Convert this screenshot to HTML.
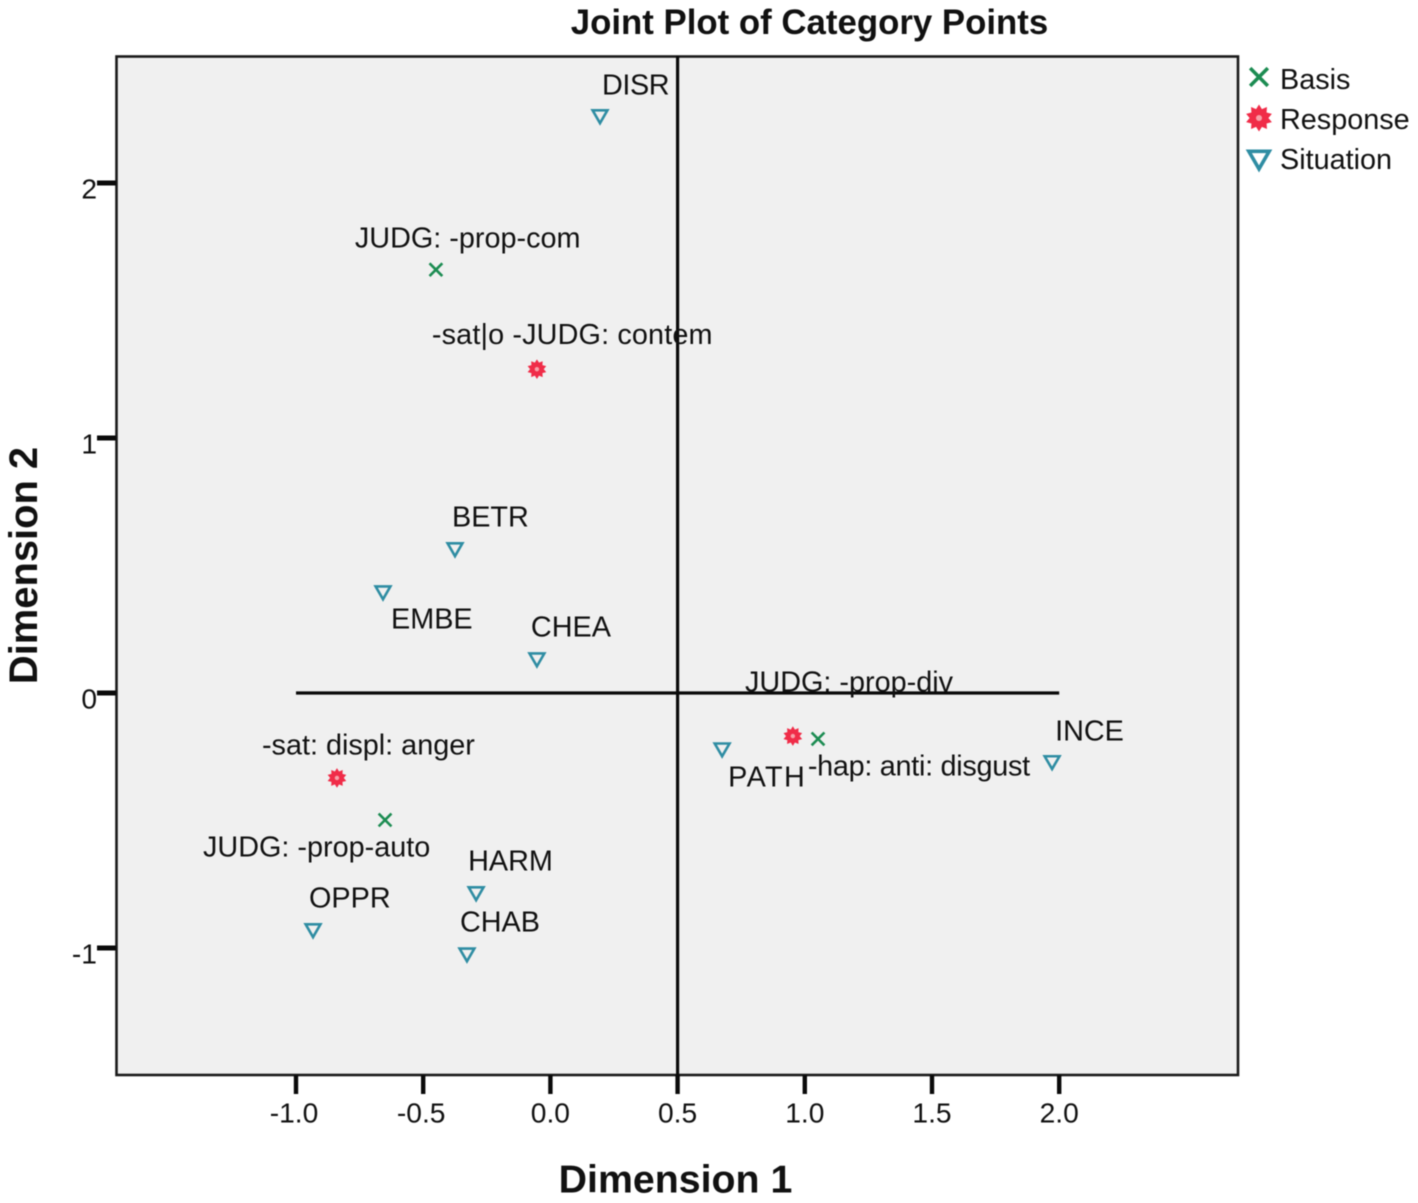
<!DOCTYPE html>
<html>
<head>
<meta charset="utf-8">
<title>Joint Plot of Category Points</title>
<style>
html,body{margin:0;padding:0;background:#fff;}
svg{display:block;filter:blur(0.45px);}
text{font-family:"Liberation Sans",Arial,sans-serif;fill:#111;}
</style>
</head>
<body>
<svg id="chart" xmlns="http://www.w3.org/2000/svg" width="1418" height="1203" viewBox="0 0 1418 1203">
  <rect x="116.5" y="56.5" width="1121.5" height="1018.5" fill="#f0f0f0" stroke="#1a1a1a" stroke-width="2.6"/>
  <g id="reference-lines"></g>
  <g id="x-axis"></g>
  <g id="y-axis"></g>
  <g id="points"></g>
  <text x="809.5" y="34" text-anchor="middle" font-size="34.8" font-weight="700">Joint Plot of Category Points</text>
  <text x="675.5" y="1192.5" text-anchor="middle" font-size="39.3" font-weight="700">Dimension 1</text>
  <text transform="translate(37 565.5) rotate(-90)" text-anchor="middle" font-size="39.9" font-weight="700">Dimension 2</text>
  <g id="legend"></g>
</svg>
<script>
// ---- chart data ----
const pointNames = ["DISR","JUDG: -prop-com","-sat|o -JUDG: contem","BETR","EMBE","CHEA","JUDG: -prop-div","PATH","-hap: anti: disgust","INCE","-sat: displ: anger","JUDG: -prop-auto","HARM","OPPR","CHAB"];
const pointGroups = ["Situation","Basis","Response","Situation","Situation","Situation","Basis","Situation","Response","Situation","Response","Basis","Situation","Situation","Situation"];
const dim1Values = [0.195,-0.45,-0.053,-0.375,-0.658,-0.053,1.052,0.675,0.953,1.972,-0.839,-0.65,-0.292,-0.933,-0.328];
const dim2Values = [2.263,1.66,1.27,0.565,0.396,0.133,-0.18,-0.22,-0.169,-0.27,-0.333,-0.498,-0.784,-0.929,-1.024];
const xTickValues = [-1.0,-0.5,0.0,0.5,1.0,1.5,2.0];
const xTickLabels = ["-1.0","-0.5","0.0","0.5","1.0","1.5","2.0"];
const yTickValues = [-1,0,1,2];
const yTickLabels = ["-1","0","1","2"];
const legendGroups = ["Basis","Response","Situation"];
const verticalReference = 0.5;
const horizontalReference = 0;

// ---- axis functions ----
function xScale(v){ return 550.4 + v * 254.4; }
function yScale(v){ return 693 - v * 255; }

const NS = "http://www.w3.org/2000/svg";
function make(tag, parent, props){
  const el = document.createElementNS(NS, tag);
  for (const k in props) el.setAttribute(k, props[k]);
  parent.appendChild(el);
  return el;
}

// label placement relative to each point (left edge / baseline), layout only
const labelLayout = {
  "DISR":[2,-21.4],"JUDG: -prop-com":[-81,-22.4],"-sat|o -JUDG: contem":[-105,-25.4],
  "BETR":[-3,-22.4],"EMBE":[8,36.6],"CHEA":[-6,-22.4],"JUDG: -prop-div":[-73,-47.4],
  "PATH":[6,37.6],"-hap: anti: disgust":[15,39.6],"INCE":[3,-21.4],
  "-sat: displ: anger":[-75,-23.4],"JUDG: -prop-auto":[-182,36.6],
  "HARM":[-8,-22.4],"OPPR":[-4,-22.4],"CHAB":[-7,-22.4]
};
const labelTracking = {"PATH":1.4,"-hap: anti: disgust":-0.28,"DISR":-0.4,"-sat|o -JUDG: contem":0.14};

const groupColors = {Basis:"#1c8c52",Response:"#f02c48",Situation:"#2f8da3"};

function drawMarker(parent, group, cx, cy, scale){
  const color = groupColors[group];
  if (group === "Basis") {
    const r = 6.4 * scale;
    const mark = make("path", parent, {d:`M${cx-r} ${cy-r}L${cx+r} ${cy+r}M${cx-r} ${cy+r}L${cx+r} ${cy-r}`, fill:"none", stroke:color, "stroke-width":2.6*scale});
    
    
  } else if (group === "Response") {
    const teeth = 10;
    const outer = 9.8 * scale, inner = 6.8 * scale;
    const pts = [];
    for (let i = 0; i < teeth * 2; i++) {
      const a = Math.PI * i / teeth - Math.PI / 2;
      const r = i % 2 ? inner : outer;
      pts.push((cx + r * Math.cos(a)).toFixed(2) + "," + (cy + r * Math.sin(a)).toFixed(2));
    }
    const mark = make("polygon", parent, {points:pts.join(" "), fill:color});
    
    
    const hub = make("circle", parent, {cx:cx, cy:cy, r:2.2*scale, fill:"#f7a0a8"});
    
    
  } else {
    const w = 7.4 * scale, up = 5.6 * scale, down = 7.2 * scale;
    const mark = make("polygon", parent, {points:`${cx-w},${cy-up} ${cx+w},${cy-up} ${cx},${cy+down}`, fill:"none", stroke:color, "stroke-width":2.6*scale, "stroke-linejoin":"miter"});
    
    
  }
}

// ---- reference lines ----
const refGroup = document.getElementById("reference-lines");
const vRef = make("line", refGroup, {x1:xScale(verticalReference), x2:xScale(verticalReference), y1:56, y2:1075, stroke:"#0a0a0a", "stroke-width":3.2});


const hRef = make("line", refGroup, {x1:xScale(xTickValues[0]), x2:xScale(xTickValues[xTickValues.length-1]), y1:yScale(horizontalReference), y2:yScale(horizontalReference), stroke:"#0a0a0a", "stroke-width":3.2});



// ---- x axis ----
const xAxis = document.getElementById("x-axis");
xTickValues.forEach(function(v, i){
  const tick = make("line", xAxis, {x1:xScale(v), x2:xScale(v), y1:1075, y2:1094, stroke:"#0a0a0a", "stroke-width":4.4});
  
  
  const label = make("text", xAxis, {x:xScale(v) - (xTickLabels[i][0] === "-" ? 2 : 0), y:1122.5, "text-anchor":"middle", "font-size":28.2});
  label.textContent = xTickLabels[i];
  
  
});

// ---- y axis ----
const yAxis = document.getElementById("y-axis");
yTickValues.forEach(function(v, i){
  const tick = make("line", yAxis, {x1:97, x2:116, y1:yScale(v), y2:yScale(v), stroke:"#0a0a0a", "stroke-width":5});
  
  
  const label = make("text", yAxis, {x:97, y:yScale(v) + 15.5, "text-anchor":"end", "font-size":28.2});
  label.textContent = yTickLabels[i];
  
  
});

// ---- points and labels ----
const pointsGroup = document.getElementById("points");
pointNames.forEach(function(name, i){
  const g = make("g", pointsGroup, {});
  
  
  const cx = xScale(dim1Values[i]);
  const cy = yScale(dim2Values[i]);
  drawMarker(g, pointGroups[i], cx, cy, 1);
  const off = labelLayout[name];
  const label = make("text", g, {x:cx + off[0], y:cy + off[1], "font-size":28.8, "letter-spacing":labelTracking[name] || 0});
  label.textContent = name;
  
  
});

// ---- legend ----
const legend = document.getElementById("legend");
legendGroups.forEach(function(group, i){
  const g = make("g", legend, {});
  
  
  const rowY = 77 + i * 41;
  drawMarker(g, group, 1259, rowY, 1.38);
  const label = make("text", g, {x:1280, y:88.8 + i * 40, "font-size":28.8});
  label.textContent = group;
  
  
});
</script>
</body>
</html>
